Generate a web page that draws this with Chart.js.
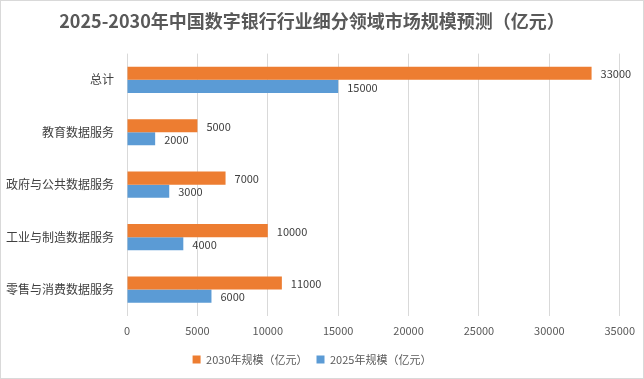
<!DOCTYPE html>
<html><head><meta charset="utf-8">
<script src="https://cdn.jsdelivr.net/npm/chart.js@4"></script>
<style>
html,body{margin:0;padding:0;background:#fff;}
#wrap{position:relative;width:642px;height:377px;border:1px solid #d9d9d9;}
</style></head>
<body><div id="wrap"><canvas id="c" width="642" height="377"></canvas></div>
<script>
const categories = ['总计','教育数据服务','政府与公共数据服务','工业与制造数据服务','零售与消费数据服务'];
const series2030 = [33000,5000,7000,10000,11000];
const series2025 = [15000,2000,3000,4000,6000];
const seriesNames = ['2030年规模（亿元）','2025年规模（亿元）'];
const xTicks = [0,5000,10000,15000,20000,25000,30000,35000];

const FONT = '"Noto Sans CJK SC","Noto Sans",sans-serif';
const labelPlugin = {
  id:'vlabels',
  afterDatasetsDraw(chart){
    const ctx = chart.ctx;
    ctx.save();
    ctx.font = '11px ' + FONT;
    ctx.fillStyle = '#404040';
    ctx.textBaseline = 'middle';
    chart.data.datasets.forEach((ds,i)=>{
      chart.getDatasetMeta(i).data.forEach((bar,j)=>{
        ctx.fillText(String(ds.data[j]), bar.x + 9, bar.y + 1);
      });
    });
    ctx.restore();
  }
};

new Chart(document.getElementById('c'),{
  type:'bar',
  data:{
    labels:categories,
    datasets:[
      {label:seriesNames[0],data:series2030,backgroundColor:'#ED7D31',categoryPercentage:0.5,barPercentage:1},
      {label:seriesNames[1],data:series2025,backgroundColor:'#5B9BD5',categoryPercentage:0.5,barPercentage:1}
    ]
  },
  options:{
    indexAxis:'y',
    responsive:false,
    animation:false,
    devicePixelRatio:1,
    layout:{padding:{left:0,right:20,top:3,bottom:3}},
    plugins:{
      title:{display:true,text:'2025-2030年中国数字银行行业细分领域市场规模预测（亿元）',
        color:'#595959',font:{family:FONT,size:18,weight:'bold'},padding:{top:6,bottom:22}},
      legend:{position:'bottom',labels:{color:'#595959',font:{family:FONT,size:11},boxWidth:8,boxHeight:8,padding:9}},
      tooltip:{enabled:false}
    },
    scales:{
      x:{min:0,max:35000,afterBuildTicks(s){s.ticks=xTicks.map(v=>({value:v}));},
        grid:{color:'#d9d9d9',drawTicks:false},border:{display:false},
        ticks:{color:'#595959',font:{family:FONT,size:11},padding:8,callback:(v)=>String(v)}},
      y:{grid:{display:false},border:{display:false},
        ticks:{color:'#404040',font:{family:FONT,size:12},padding:5}}
    }
  },
  plugins:[labelPlugin]
});
</script></body></html>
